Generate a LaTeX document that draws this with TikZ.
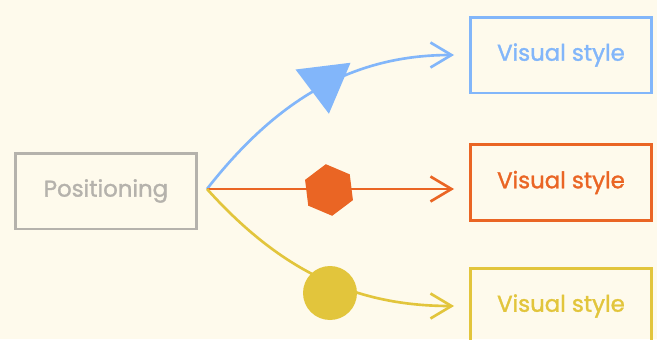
\documentclass[tikz,border=0pt]{standalone}
\usepackage{fontspec}
\setmainfont{Poppins}
\newfontfamily\boxfont{Poppins}[FakeBold=1.4]
\usetikzlibrary{arrows.meta,shapes.geometric}
\definecolor{bgcream}{RGB}{254,250,236}
\definecolor{posgray}{RGB}{181,178,172}
\definecolor{styleblue}{RGB}{130,182,250}
\definecolor{styleorange}{RGB}{234,101,36}
\definecolor{styleyellow}{RGB}{226,197,60}
\tikzset{
  box/.style={draw, line width=1.7pt, minimum width=3.62cm, minimum height=1.52cm,
    font=\boxfont\fontsize{13}{15}\selectfont},
  link/.style={line width=1.5pt, shorten >=0.3cm,
    -{Straight Barb[length=0.42cm,width=0.5cm]}},
  marker/.style={fill, inner sep=0pt, draw=none}
}
\begin{document}
\begin{tikzpicture}[x=0.02cm, y=-0.02cm]
\useasboundingbox[fill=bgcream] (0,0) rectangle (657,339);
\node[box, draw=posgray, text=posgray] (pos) at (106,191) {Positioning};
\node[box, draw=styleblue, text=styleblue] (blue) at (561,55) {Visual style};
\node[box, draw=styleorange, text=styleorange] (orange) at (561,182.5) {Visual style};
\node[box, draw=styleyellow, text=styleyellow] (yellow) at (561,306) {Visual style};
\coordinate (fork) at (207,189);
\coordinate (orangeend) at (fork -| orange.west);

% links
\draw[link, styleblue] (fork) to[out=52, in=180] (blue.west);
\draw[link, styleorange] (fork) -- (orangeend);
\draw[link, styleyellow] (fork) to[out=-48, in=180] (yellow.west);

% markers on the links
\node[marker, styleblue, regular polygon, regular polygon sides=3, minimum size=1.28cm, rotate=-173] (tri) at (325,82) {};
\node[marker, styleorange, regular polygon, regular polygon sides=6, minimum size=1.04cm, rotate=37] (hex) at (329,190) {};
\node[marker, styleyellow, circle, minimum size=1.08cm] (dot) at (330,293) {};
\end{tikzpicture}
\end{document}
